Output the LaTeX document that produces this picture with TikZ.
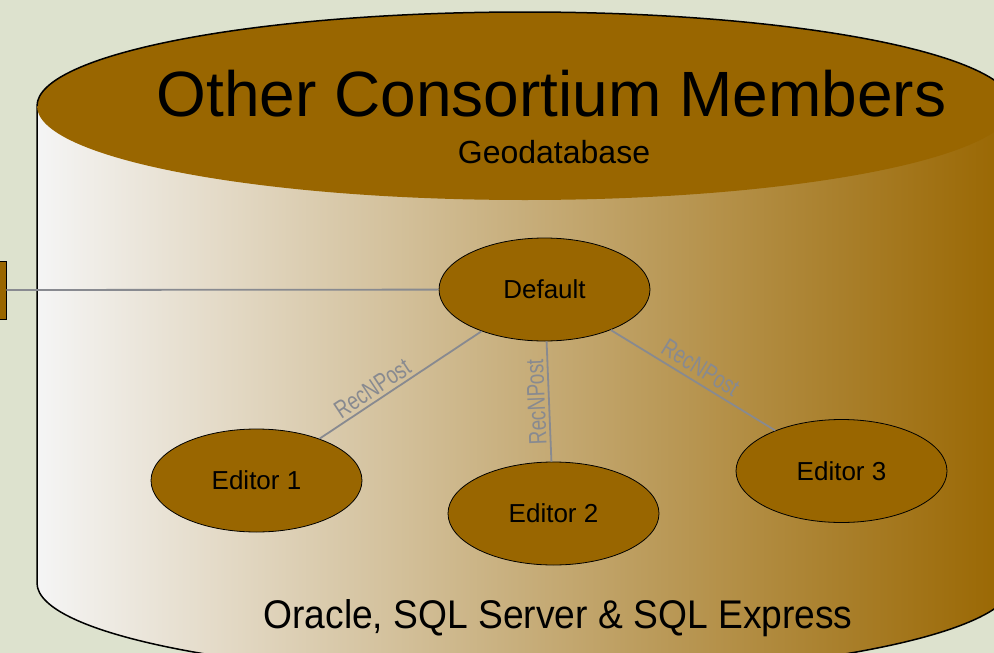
\documentclass[tikz,border=0pt]{standalone}
\usepackage{fontspec}
\setmainfont{Liberation Sans}
\newfontfamily\narrowfont[FakeStretch=0.76]{Liberation Sans}
\newfontfamily\enginefont[FakeStretch=0.93]{Liberation Sans}
\usetikzlibrary{shapes.geometric}
\definecolor{bgpanel}{RGB}{221,226,206}
\definecolor{dbbrown}{RGB}{153,102,0}
\definecolor{linkgray}{RGB}{136,138,144}
\begin{document}
\begin{tikzpicture}[x=1pt, y=-1pt,
		member/.style={ellipse, draw=black, line width=0.8pt, fill=dbbrown, minimum width=211pt, minimum height=103pt, inner sep=0pt, font=\fontsize{26}{26}\selectfont},
		link/.style={draw=linkgray, line width=1.8pt},
		recn/.style={sloped, above, inner sep=3pt, text=linkgray, font=\narrowfont\fontsize{25}{25}\selectfont}]
	\useasboundingbox (0,0) rectangle (994,653);
	\clip (0,0) rectangle (994,653);
	\fill[bgpanel] (0,0) rectangle (994,653);
	
	% the database cylinder
	\shade[left color=white!96!black, right color=dbbrown]
		(37,106) -- (37,583) arc[start angle=180, end angle=0, x radius=488, y radius=94] -- (1013,106) -- cycle;
	\draw[black, line width=1.5pt] (37,106) -- (37,583) arc[start angle=180, end angle=0, x radius=488, y radius=94];
	\fill[dbbrown] (525,106) ellipse[x radius=488, y radius=94];
	\draw[black, line width=1.5pt] (37,106) arc[start angle=180, end angle=360, x radius=488, y radius=94];
	
	\node[anchor=base, font=\fontsize{64}{64}\selectfont] (title) at (551.5,116) {Other Consortium Members};
	\node[anchor=base, font=\fontsize{32}{32}\selectfont] (subtitle) at (554,163) {Geodatabase};
	\node[anchor=base, font=\enginefont\fontsize{40}{40}\selectfont] (engine) at (558,628) {Oracle, SQL Server \& SQL Express};
	
	\node[member] (default) at (544.5,289.5) {Default};
	\node[member] (ed1) at (256.5,480.5) {Editor 1};
	\node[member] (ed2) at (553.5,513.5) {Editor 2};
	\node[member] (ed3) at (841.5,471) {Editor 3};
	\node[draw=black, line width=0.8pt, fill=dbbrown, minimum width=26pt, minimum height=58pt, inner sep=0pt] (box) at (-7,290) {};
	
	\draw[link] (box) -- (default);
	\draw[link] (ed1) -- node[recn, pos=0.37] {RecNPost} (default);
	\draw[link] (ed2) -- node[recn, pos=0.5, allow upside down] {RecNPost} (default);
	\draw[link] (default) -- node[recn, pos=0.5, inner sep=5pt] {RecNPost} (ed3);
\end{tikzpicture}
\end{document}
